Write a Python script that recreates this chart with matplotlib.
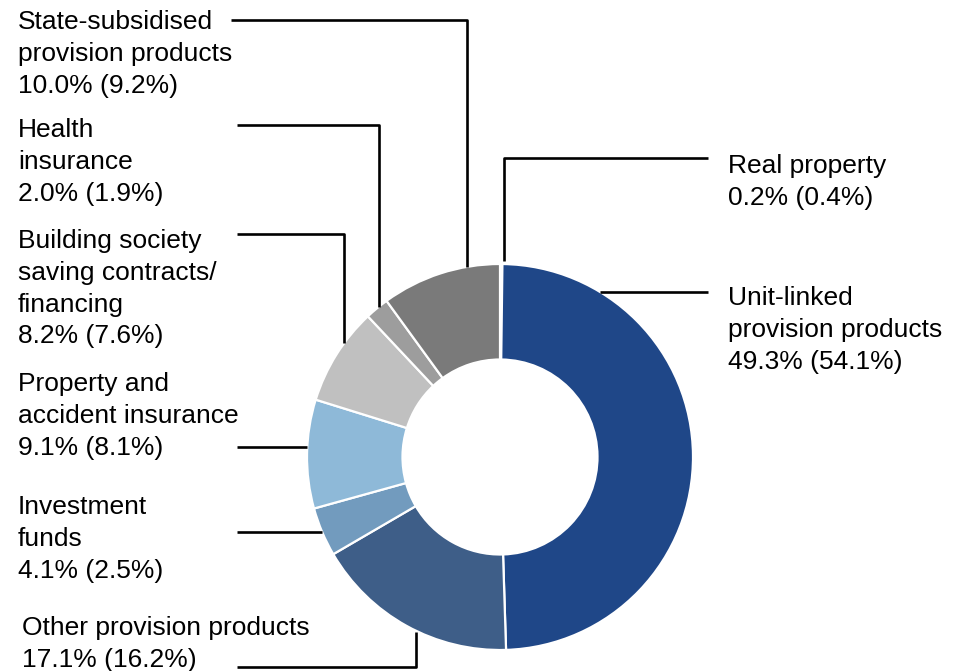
import numpy as np
import matplotlib
matplotlib.use("Agg")
import matplotlib.pyplot as plt

plt.rcParams['font.family'] = ['Liberation Sans', 'DejaVu Sans']

# clockwise from 12 o'clock
names = ["Real property", "Unit-linked\nprovision products", "Other provision products",
         "Investment\nfunds", "Property and\naccident insurance",
         "Building society\nsaving contracts/\nfinancing", "Health\ninsurance",
         "State-subsidised\nprovision products"]
shares = [0.2, 49.3, 17.1, 4.1, 9.1, 8.2, 2.0, 10.0]
prev_year = [0.4, 54.1, 16.2, 2.5, 8.1, 7.6, 1.9, 9.2]
colors = ["#f4f6fa", "#1f4788", "#3e5e88", "#729bbe", "#8eb9d8", "#c0c0c0", "#9d9d9d", "#7a7a7a"]

W, H = 958, 671
cx, cy, R, r_in = 500, 457, 193, 97.5

fig = plt.figure(figsize=(W / 100, H / 100), dpi=100)
ax = fig.add_axes([0, 0, 1, 1])

# y axis is flipped below, so start at -90 and "counterclock" ends up clockwise on screen
ax.pie(shares, colors=colors, startangle=-90, counterclock=True, center=(cx, cy),
       radius=R, wedgeprops=dict(width=R - r_in, edgecolor="white", linewidth=1.6))

ax.set_xlim(0, W)
ax.set_ylim(H, 0)
ax.set_aspect("equal")
ax.axis("off")


def ring_y(x, top=True):
    d = np.sqrt(R**2 - (x - cx)**2)
    return cy - d if top else cy + d


def ring_x(y, left=True):
    d = np.sqrt(R**2 - (y - cy)**2)
    return cx - d if left else cx + d


# leader lines (label end -> ring)
leaders = [
    [(708, 158), (504, 158), (504, ring_y(504) - 3)],
    [(708, 292), (ring_x(292, left=False), 292)],
    [(237, 667), (416, 667), (416, ring_y(416, top=False) + 1)],
    [(237, 532), (ring_x(532), 532)],
    [(237, 447), (ring_x(447), 447)],
    [(237, 234), (344, 234), (344, ring_y(344))],
    [(237, 125), (379, 125), (379, ring_y(379))],
    [(231, 20), (467, 20), (467, ring_y(467))],
]
for pts in leaders:
    xs, ys = zip(*pts)
    ax.plot(xs, ys, color="black", lw=1.9, solid_capstyle="butt")

# label positions (top-left of text)
label_pos = [(728, 154), (728, 286), (22, 616), (18, 495), (18, 372),
             (18, 229), (18, 118), (18, 10)]
for name, s, p, (x, y) in zip(names, shares, prev_year, label_pos):
    ax.text(x, y, f"{name}\n{s:.1f}% ({p:.1f}%)", ha="left", va="top",
            fontsize=19, linespacing=1.41, color="black")

fig.savefig("out.png", dpi=100, facecolor="white")
